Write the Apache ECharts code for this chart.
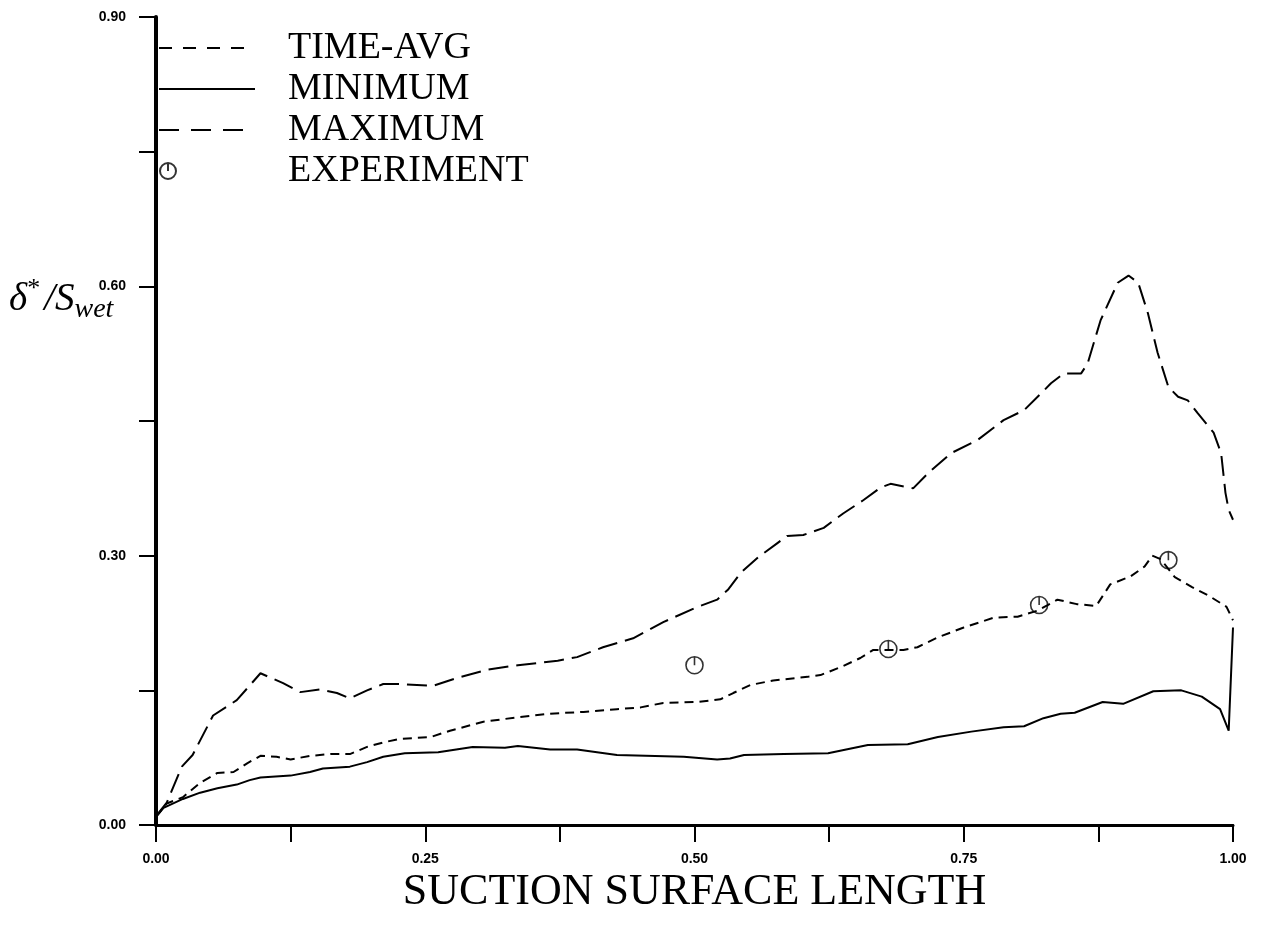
<!DOCTYPE html>
<html>
<head>
<meta charset="utf-8">
<script src="https://cdn.jsdelivr.net/npm/echarts@6/dist/echarts.min.js"></script>
<style>
html, body { margin: 0; padding: 0; background: #fff; }
#chart { width: 1269px; height: 927px; }
</style>
</head>
<body>
<div id="chart"></div>
<script>
// suction surface length (x) and delta*/S_wet (y)
const maxX = [0, 0.010, 0.024, 0.034, 0.053, 0.075, 0.097, 0.118, 0.134, 0.152, 0.168, 0.180, 0.196, 0.211, 0.227, 0.257, 0.280, 0.308, 0.336, 0.373, 0.391, 0.415, 0.443, 0.471, 0.503, 0.521, 0.531, 0.543, 0.559, 0.577, 0.586, 0.601, 0.620, 0.638, 0.657, 0.673, 0.682, 0.703, 0.717, 0.738, 0.763, 0.787, 0.806, 0.822, 0.831, 0.843, 0.859, 0.865, 0.877, 0.893, 0.903, 0.912, 0.921, 0.930, 0.940, 0.949, 0.958, 0.967, 0.982, 0.989, 0.993, 0.996, 1.0];
const maxY = [0.010, 0.025, 0.065, 0.078, 0.122, 0.139, 0.169, 0.158, 0.148, 0.151, 0.147, 0.141, 0.150, 0.157, 0.157, 0.155, 0.164, 0.173, 0.178, 0.183, 0.187, 0.198, 0.208, 0.226, 0.243, 0.251, 0.262, 0.281, 0.298, 0.314, 0.322, 0.323, 0.331, 0.347, 0.362, 0.376, 0.380, 0.375, 0.392, 0.414, 0.429, 0.451, 0.462, 0.481, 0.492, 0.503, 0.503, 0.514, 0.562, 0.604, 0.612, 0.604, 0.570, 0.526, 0.488, 0.477, 0.473, 0.459, 0.437, 0.414, 0.370, 0.351, 0.34];

const minX = [0, 0.007, 0.025, 0.041, 0.057, 0.075, 0.087, 0.097, 0.125, 0.143, 0.155, 0.180, 0.196, 0.211, 0.231, 0.262, 0.294, 0.324, 0.336, 0.366, 0.391, 0.428, 0.490, 0.521, 0.533, 0.546, 0.583, 0.624, 0.661, 0.698, 0.726, 0.757, 0.787, 0.806, 0.824, 0.840, 0.853, 0.879, 0.898, 0.926, 0.952, 0.971, 0.988, 0.996, 1.0];
const minY = [0.009, 0.019, 0.029, 0.036, 0.041, 0.045, 0.050, 0.053, 0.055, 0.059, 0.063, 0.065, 0.070, 0.076, 0.080, 0.081, 0.087, 0.086, 0.088, 0.084, 0.084, 0.078, 0.076, 0.073, 0.074, 0.078, 0.079, 0.080, 0.089, 0.090, 0.098, 0.104, 0.109, 0.110, 0.119, 0.124, 0.125, 0.137, 0.135, 0.149, 0.150, 0.143, 0.129, 0.105, 0.22];

const avgX = [0, 0.010, 0.025, 0.041, 0.057, 0.072, 0.085, 0.097, 0.112, 0.125, 0.143, 0.162, 0.180, 0.196, 0.211, 0.227, 0.255, 0.273, 0.304, 0.336, 0.366, 0.397, 0.428, 0.450, 0.471, 0.503, 0.524, 0.536, 0.552, 0.573, 0.605, 0.617, 0.636, 0.654, 0.666, 0.694, 0.707, 0.726, 0.750, 0.778, 0.800, 0.819, 0.837, 0.855, 0.873, 0.886, 0.905, 0.918, 0.925, 0.933, 0.946, 0.962, 0.978, 0.994, 1.0];
const avgY = [0.009, 0.024, 0.031, 0.047, 0.058, 0.059, 0.069, 0.077, 0.076, 0.073, 0.077, 0.079, 0.079, 0.087, 0.092, 0.096, 0.098, 0.105, 0.115, 0.120, 0.124, 0.126, 0.129, 0.131, 0.136, 0.137, 0.140, 0.147, 0.156, 0.161, 0.165, 0.167, 0.176, 0.186, 0.195, 0.195, 0.198, 0.209, 0.220, 0.231, 0.232, 0.239, 0.251, 0.246, 0.244, 0.268, 0.277, 0.288, 0.300, 0.296, 0.276, 0.265, 0.255, 0.243, 0.228];

const expX = [0.50, 0.68, 0.82, 0.94];
const expY = [0.178, 0.196, 0.245, 0.295];

const zip = (xs, ys) => xs.map((x, i) => [x, ys[i]]);
const serif = 'Liberation Serif';
const chart = echarts.init(document.getElementById('chart'));

chart.setOption({
    animation: false,
    backgroundColor: '#fff',
    grid: { left: 156, right: 36, top: 17, bottom: 102 },
    legend: [
        {
            data: [
                { name: 'TIME-AVG', lineStyle: { type: [13, 11] } },
                { name: 'MINIMUM' },
                { name: 'MAXIMUM', lineStyle: { type: [20, 12] } }
            ],
            orient: 'vertical',
            left: 153, top: 24,
            itemWidth: 96, itemHeight: 14, itemGap: 3,
            itemStyle: { opacity: 0 },
            textStyle: { fontFamily: serif, fontSize: 38, lineHeight: 38, color: '#000', padding: [0, 0, 0, 28] }
        },
        {
            data: ['EXPERIMENT'],
            orient: 'vertical',
            left: 154, top: 147,
            itemWidth: 16, itemHeight: 16,
            textStyle: { fontFamily: serif, fontSize: 38, lineHeight: 38, color: '#000', padding: [0, 0, 0, 107] }
        }
    ],
    xAxis: [
        {
            type: 'value', min: 0, max: 1, interval: 0.125,
            name: 'SUCTION SURFACE LENGTH', nameLocation: 'middle', nameGap: 24,
            nameTextStyle: { fontFamily: serif, fontSize: 44, color: '#000' },
            axisLine: { lineStyle: { color: '#000', width: 3 } },
            axisTick: { inside: false, length: 17, lineStyle: { color: '#000', width: 2 } },
            axisLabel: {
                margin: 27, color: '#000', fontSize: 14, fontWeight: 'bold', fontFamily: 'Liberation Sans',
                formatter: v => (Math.round(v * 1000) % 250 === 0 ? v.toFixed(2) : '')
            },
            splitLine: { show: false }
        },
        {
            type: 'value', min: 0, max: 1, position: 'top',
            axisLine: { show: true, lineStyle: { color: '#000', width: 2 } },
            axisTick: { show: false }, axisLabel: { show: false }, splitLine: { show: false }
        }
    ],
    yAxis: [
        {
            type: 'value', min: 0, max: 0.9, interval: 0.15,
            axisLine: { show: true, lineStyle: { color: '#000', width: 2 } },
            axisTick: { show: true, inside: false, length: 17, lineStyle: { color: '#000', width: 2 } },
            axisLabel: {
                margin: 30, color: '#000', fontSize: 14, fontWeight: 'bold', fontFamily: 'Liberation Sans',
                formatter: v => (Math.round(v * 100) % 30 === 0 ? v.toFixed(2) : '')
            },
            splitLine: { show: false }
        },
        {
            type: 'value', min: 0, max: 0.9, position: 'right',
            axisLine: { show: true, lineStyle: { color: '#000', width: 4 } },
            axisTick: { show: false }, axisLabel: { show: false }, splitLine: { show: false }
        }
    ],
    graphic: [
        {
            type: 'text', left: 9, top: 276,
            style: {
                text: '{a|δ}{sup|*}{a|/S}{sub|wet}',
                rich: {
                    a: { fontFamily: serif, fontStyle: 'italic', fontSize: 39, color: '#000', lineHeight: 48, verticalAlign: 'middle' },
                    sup: { fontFamily: serif, fontSize: 26, color: '#000', lineHeight: 48, verticalAlign: 'top', padding: [0, 4, 0, 0] },
                    sub: { fontFamily: serif, fontStyle: 'italic', fontSize: 28, color: '#000', lineHeight: 48, verticalAlign: 'bottom' }
                }
            }
        }
    ],
    series: [
        {
            name: 'TIME-AVG', type: 'line', symbol: 'none',
            lineStyle: { color: '#000', width: 2, type: [9, 6] },
            itemStyle: { color: '#000' },
            data: zip(avgX, avgY)
        },
        {
            name: 'MINIMUM', type: 'line', symbol: 'none',
            lineStyle: { color: '#000', width: 2, type: 'solid' },
            itemStyle: { color: '#000' },
            data: zip(minX, minY)
        },
        {
            name: 'MAXIMUM', type: 'line', symbol: 'none',
            lineStyle: { color: '#000', width: 2, type: [20, 8] },
            itemStyle: { color: '#000' },
            data: zip(maxX, maxY)
        },
        {
            name: 'EXPERIMENT', type: 'scatter',
            symbol: 'path://M0,10a10,10 0 1,0 20,0a10,10 0 1,0 -20,0 M10,0 L10,10',
            symbolSize: 17,
            itemStyle: { color: 'rgba(0,0,0,0)', borderColor: '#000', borderWidth: 1.6 },
            data: zip(expX, expY)
        }
    ]
});
</script>
</body>
</html>
